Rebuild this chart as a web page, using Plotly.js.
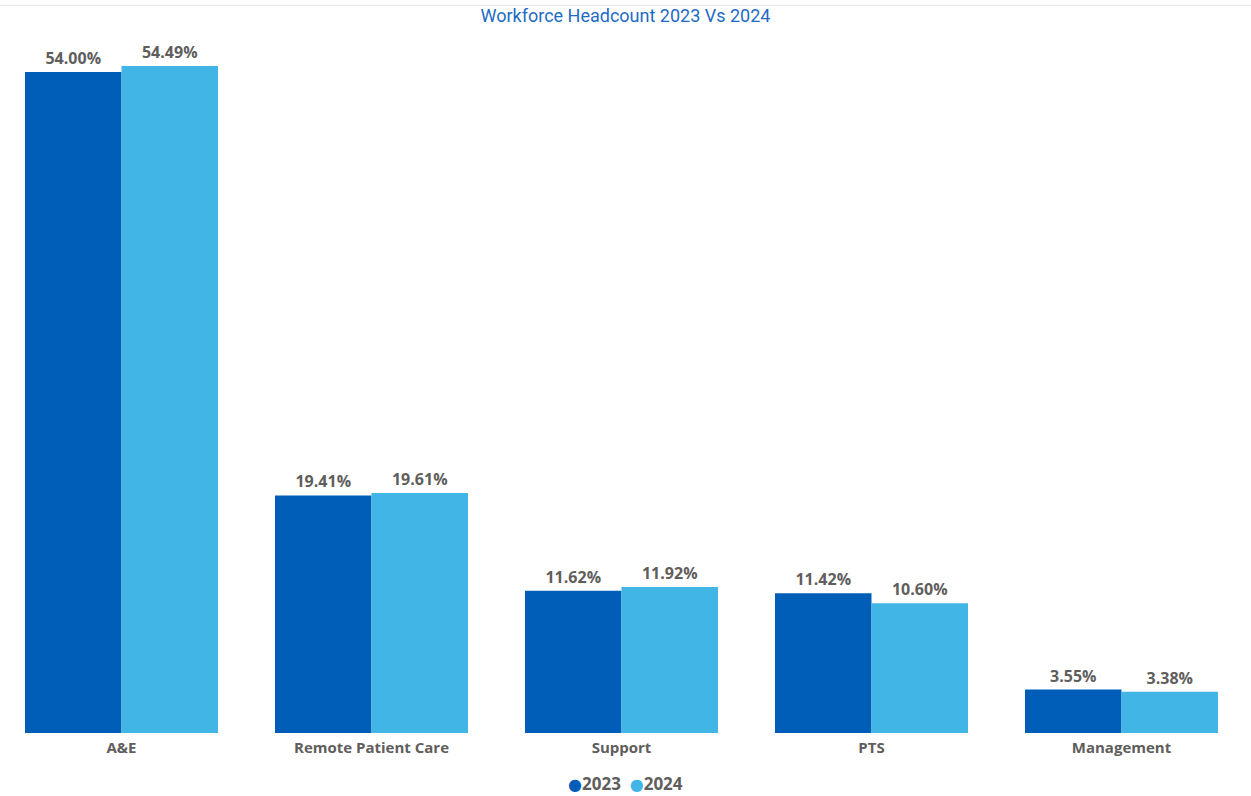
<!DOCTYPE html>
<html>
<head>
<meta charset="utf-8">
<script src="https://cdn.plot.ly/plotly-3.0.1.min.js"></script>
<style>html,body{margin:0;padding:0;background:#fff;}#chart{width:1251px;height:796px;}</style>
</head>
<body>
<div id="chart"></div>
<script>
const categories = ["A&E", "Remote Patient Care", "Support", "PTS", "Management"];
const values2023 = [54.00, 19.41, 11.62, 11.42, 3.55];
const values2024 = [54.49, 19.61, 11.92, 10.60, 3.38];
const seriesNames = ["2023", "2024"];
const seriesColors = ["#005EB8", "#41B6E6"];

const dataLabelFont = {family: "Open Sans, sans-serif", size: 16, color: "#605E5C", weight: 700};
const tickFont = {family: "Open Sans, sans-serif", size: 15, color: "#605E5C", weight: 700};

const traces = [
  {type: "bar", name: seriesNames[0], x: categories, y: values2023,
   marker: {color: seriesColors[0]}, texttemplate: "%{y:.2f}%", textposition: "outside",
   textfont: dataLabelFont, cliponaxis: false, showlegend: false},
  {type: "bar", name: seriesNames[1], x: categories, y: values2024,
   marker: {color: seriesColors[1]}, texttemplate: "%{y:.2f}%", textposition: "outside",
   textfont: dataLabelFont, cliponaxis: false, showlegend: false}
];

const legendText = seriesNames.map((n, i) =>
  "<span style='color:" + seriesColors[i] + ";font-size:16px;font-family:DejaVu Sans'>●</span>" + n).join("  ");

const layout = {
  width: 1251, height: 796,
  margin: {l: 0, r: 0, t: 40, b: 63},
  paper_bgcolor: "#fff", plot_bgcolor: "#fff",
  title: {text: "Workforce Headcount 2023 Vs 2024", x: 0.5, xanchor: "center", y: 0.98, yanchor: "middle",
          font: {family: "Roboto, sans-serif", size: 18, color: "#1E6BC4"}},
  barmode: "group", bargap: 0.228, bargroupgap: 0,
  xaxis: {type: "category", range: [-0.486, 4.518], showgrid: false, zeroline: false, showline: false,
          ticks: "", tickfont: tickFont, ticklabelstandoff: 4, fixedrange: true},
  yaxis: {range: [0, 56.62], visible: false, showgrid: false, zeroline: false, fixedrange: true},
  showlegend: false,
  annotations: [{text: legendText, xref: "paper", yref: "paper", x: 0.5, y: -0.073,
                 xanchor: "center", yanchor: "middle", showarrow: false,
                 font: {family: "Open Sans, sans-serif", size: 17, color: "#605E5C", weight: 700}}],
  shapes: [{type: "line", xref: "paper", yref: "paper", x0: 0, x1: 1, y0: 1.05, y1: 1.05,
            line: {color: "#E6E6E6", width: 1}}]
};

Plotly.newPlot("chart", traces, layout, {displayModeBar: false, staticPlot: true});
</script>
</body>
</html>
